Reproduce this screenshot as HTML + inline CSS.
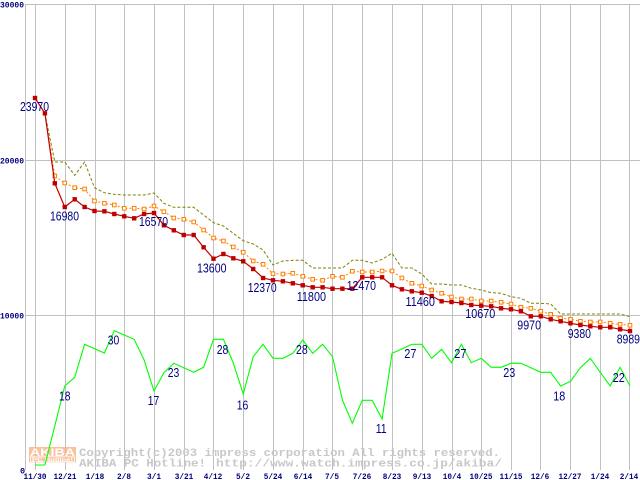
<!DOCTYPE html>
<html><head><meta charset="utf-8"><style>
html,body{margin:0;padding:0;background:#fff;}
svg{display:block;}
.ax{font-family:"Liberation Mono",monospace;font-weight:bold;font-size:8.5px;fill:#000080;}
.lb{font-family:"Liberation Sans",sans-serif;font-size:12.5px;fill:#000080;}
.cp{font-family:"Liberation Mono",monospace;font-weight:bold;font-size:11px;fill:#c8c8c8;}
</style></head><body>
<svg width="640" height="480" viewBox="0 0 640 480" xmlns="http://www.w3.org/2000/svg">
<defs>
<rect id="r" x="-2.2" y="-2.2" width="4.4" height="4.4" fill="#c00000"/>
<rect id="o" x="-1.8" y="-1.8" width="3.6" height="3.6" fill="#fff" stroke="#ff8000" stroke-width="1"/>
</defs>
<g stroke="#c0c0c0" stroke-width="1" shape-rendering="crispEdges">
<line x1="25" y1="4.5" x2="640" y2="4.5"/>
<line x1="25" y1="160.5" x2="640" y2="160.5"/>
<line x1="25" y1="315.5" x2="640" y2="315.5"/>
<line x1="35.5" y1="4" x2="35.5" y2="470"/>
<line x1="65.5" y1="4" x2="65.5" y2="470"/>
<line x1="95.5" y1="4" x2="95.5" y2="470"/>
<line x1="124.5" y1="4" x2="124.5" y2="470"/>
<line x1="154.5" y1="4" x2="154.5" y2="470"/>
<line x1="184.5" y1="4" x2="184.5" y2="470"/>
<line x1="213.5" y1="4" x2="213.5" y2="470"/>
<line x1="243.5" y1="4" x2="243.5" y2="470"/>
<line x1="273.5" y1="4" x2="273.5" y2="470"/>
<line x1="303.5" y1="4" x2="303.5" y2="470"/>
<line x1="332.5" y1="4" x2="332.5" y2="470"/>
<line x1="362.5" y1="4" x2="362.5" y2="470"/>
<line x1="392.5" y1="4" x2="392.5" y2="470"/>
<line x1="422.5" y1="4" x2="422.5" y2="470"/>
<line x1="452.5" y1="4" x2="452.5" y2="470"/>
<line x1="481.5" y1="4" x2="481.5" y2="470"/>
<line x1="511.5" y1="4" x2="511.5" y2="470"/>
<line x1="540.5" y1="4" x2="540.5" y2="470"/>
<line x1="570.5" y1="4" x2="570.5" y2="470"/>
<line x1="600.5" y1="4" x2="600.5" y2="470"/>
<line x1="629.5" y1="4" x2="629.5" y2="470"/>
<line x1="25.5" y1="4" x2="25.5" y2="470"/>
</g>

<!-- y axis labels -->
<text class="ax" x="0" y="7.5" textLength="24" lengthAdjust="spacingAndGlyphs">30000</text>
<text class="ax" x="0" y="163.5" textLength="24" lengthAdjust="spacingAndGlyphs">20000</text>
<text class="ax" x="0" y="318.5" textLength="24" lengthAdjust="spacingAndGlyphs">10000</text>
<text class="ax" x="20" y="473.5">0</text>

<!-- x axis labels -->
<g class="ax" text-anchor="middle">
<text x="35" y="479" textLength="23" lengthAdjust="spacingAndGlyphs">11/30</text>
<text x="65" y="479" textLength="23" lengthAdjust="spacingAndGlyphs">12/21</text>
<text x="95" y="479" textLength="18.5" lengthAdjust="spacingAndGlyphs">1/18</text>
<text x="124" y="479" textLength="14" lengthAdjust="spacingAndGlyphs">2/8</text>
<text x="154" y="479" textLength="14" lengthAdjust="spacingAndGlyphs">3/1</text>
<text x="184" y="479" textLength="18.5" lengthAdjust="spacingAndGlyphs">3/21</text>
<text x="213" y="479" textLength="18.5" lengthAdjust="spacingAndGlyphs">4/12</text>
<text x="243" y="479" textLength="14" lengthAdjust="spacingAndGlyphs">5/2</text>
<text x="273" y="479" textLength="18.5" lengthAdjust="spacingAndGlyphs">5/24</text>
<text x="303" y="479" textLength="18.5" lengthAdjust="spacingAndGlyphs">6/14</text>
<text x="332" y="479" textLength="14" lengthAdjust="spacingAndGlyphs">7/5</text>
<text x="362" y="479" textLength="18.5" lengthAdjust="spacingAndGlyphs">7/26</text>
<text x="392" y="479" textLength="18.5" lengthAdjust="spacingAndGlyphs">8/23</text>
<text x="422" y="479" textLength="18.5" lengthAdjust="spacingAndGlyphs">9/13</text>
<text x="452" y="479" textLength="18.5" lengthAdjust="spacingAndGlyphs">10/4</text>
<text x="481" y="479" textLength="23" lengthAdjust="spacingAndGlyphs">10/25</text>
<text x="511" y="479" textLength="23" lengthAdjust="spacingAndGlyphs">11/15</text>
<text x="540" y="479" textLength="18.5" lengthAdjust="spacingAndGlyphs">12/6</text>
<text x="570" y="479" textLength="23" lengthAdjust="spacingAndGlyphs">12/27</text>
<text x="600" y="479" textLength="18.5" lengthAdjust="spacingAndGlyphs">1/24</text>
<text x="629" y="479" textLength="18.5" lengthAdjust="spacingAndGlyphs">2/14</text>
</g>

<!-- watermark -->
<g opacity="0.85">
<rect x="29" y="447" width="47" height="15.5" fill="#f7b88c"/>
<text x="30" y="456" font-family="Liberation Sans,sans-serif" font-weight="bold" font-size="11px" fill="#fff" textLength="45" lengthAdjust="spacingAndGlyphs">AKIBA</text>
<rect x="30.5" y="456.8" width="44" height="5" fill="none" stroke="#fff" stroke-width="0.8"/>
<text x="32" y="461.7" font-family="Liberation Sans,sans-serif" font-weight="bold" font-size="5.5px" fill="#fff" textLength="41" lengthAdjust="spacingAndGlyphs">PC Hotline!</text>
</g>
<text class="cp" x="79" y="456" textLength="421" lengthAdjust="spacingAndGlyphs">Copyright(c)2003 impress corporation All rights reserved.</text>
<text class="cp" x="79" y="466.5" textLength="127" lengthAdjust="spacingAndGlyphs">AKIBA PC Hotline!</text>
<text class="cp" x="216" y="466.5" textLength="286" lengthAdjust="spacingAndGlyphs">http://www.watch.impress.co.jp/akiba/</text>

<!-- olive dashed -->
<polyline fill="none" stroke="#808000" stroke-width="1" stroke-dasharray="3,2" points="44.9,113.3 54.8,162 64.75,162 74.7,175.3 84.6,162 94.5,187.7 104.4,192.7 114.3,194.3 124.25,195 134.2,195 144.1,195 154,193 163.9,203.3 173.8,207.3 183.75,207.3 193.7,207.3 203.6,215 213.5,222.7 223.4,226 233.3,233.3 243.25,240.7 253.2,244 263.1,250 273,265 282.9,261 292.8,260.3 302.75,260.3 312.7,268 322.6,268 332.5,268 342.4,268 352.3,260.3 362.25,260.3 372.2,263 382.1,259.3 392,253.3 401.9,268 411.8,268 421.75,274 431.7,284 441.6,284 451.5,285 461.4,285 471.3,288.3 481.25,290 491.2,292.7 501.1,293.3 511,296.7 520.9,298.3 530.8,303.3 540.75,303.3 550.7,304 560.6,314 570.5,314 580.4,314 590.3,314 600.25,314 610.2,314 620.1,314 630,316.7"/>

<!-- orange dotted -->
<polyline fill="none" stroke="#ff8000" stroke-width="1" stroke-dasharray="2,2" points="44.9,113.3 54.8,176 64.75,183 74.7,187.7 84.6,189 94.5,201 104.4,203.3 114.3,205 124.25,208.3 134.2,208.3 144.1,209 154,206 163.9,211.7 173.8,218 183.75,219.3 193.7,222 203.6,230 213.5,238 223.4,241 233.3,247 243.25,252.3 253.2,261 263.1,264.3 273,273.7 282.9,274 292.8,273.3 302.75,276.3 312.7,279.3 322.6,280.3 332.5,276.3 342.4,277.3 352.3,271.3 362.25,272 372.2,272 382.1,271 392,271 401.9,278 411.8,283.3 421.75,286 431.7,290 441.6,293.3 451.5,297 461.4,299 471.3,299 481.25,301 491.2,301 501.1,302.3 511,304 520.9,307.3 530.8,308.3 540.75,311.3 550.7,314.3 560.6,318.3 570.5,319.3 580.4,321.3 590.3,322 600.25,322 610.2,323.3 620.1,324.3 630,325.3"/>
<g>
<use href="#o" x="54.8" y="176"/><use href="#o" x="64.75" y="183"/><use href="#o" x="74.7" y="187.7"/><use href="#o" x="84.6" y="189"/><use href="#o" x="94.5" y="201"/><use href="#o" x="104.4" y="203.3"/><use href="#o" x="114.3" y="205"/><use href="#o" x="124.25" y="208.3"/><use href="#o" x="134.2" y="208.3"/><use href="#o" x="144.1" y="209"/><use href="#o" x="154" y="206"/><use href="#o" x="163.9" y="211.7"/><use href="#o" x="173.8" y="218"/><use href="#o" x="183.75" y="219.3"/><use href="#o" x="193.7" y="222"/><use href="#o" x="203.6" y="230"/><use href="#o" x="213.5" y="238"/><use href="#o" x="223.4" y="241"/><use href="#o" x="233.3" y="247"/><use href="#o" x="243.25" y="252.3"/><use href="#o" x="253.2" y="261"/><use href="#o" x="263.1" y="264.3"/><use href="#o" x="273" y="273.7"/><use href="#o" x="282.9" y="274"/><use href="#o" x="292.8" y="273.3"/><use href="#o" x="302.75" y="276.3"/><use href="#o" x="312.7" y="279.3"/><use href="#o" x="322.6" y="280.3"/><use href="#o" x="332.5" y="276.3"/><use href="#o" x="342.4" y="277.3"/><use href="#o" x="352.3" y="271.3"/><use href="#o" x="362.25" y="272"/><use href="#o" x="372.2" y="272"/><use href="#o" x="382.1" y="271"/><use href="#o" x="392" y="271"/><use href="#o" x="401.9" y="278"/><use href="#o" x="411.8" y="283.3"/><use href="#o" x="421.75" y="286"/><use href="#o" x="431.7" y="290"/><use href="#o" x="441.6" y="293.3"/><use href="#o" x="451.5" y="297"/><use href="#o" x="461.4" y="299"/><use href="#o" x="471.3" y="299"/><use href="#o" x="481.25" y="301"/><use href="#o" x="491.2" y="301"/><use href="#o" x="501.1" y="302.3"/><use href="#o" x="511" y="304"/><use href="#o" x="520.9" y="307.3"/><use href="#o" x="530.8" y="308.3"/><use href="#o" x="540.75" y="311.3"/><use href="#o" x="550.7" y="314.3"/><use href="#o" x="560.6" y="318.3"/><use href="#o" x="570.5" y="319.3"/><use href="#o" x="580.4" y="321.3"/><use href="#o" x="590.3" y="322"/><use href="#o" x="600.25" y="322"/><use href="#o" x="610.2" y="323.3"/><use href="#o" x="620.1" y="324.3"/><use href="#o" x="630" y="325.3"/>
</g>

<!-- red solid -->
<polyline fill="none" stroke="#c00000" stroke-width="1.2" points="35,98 44.9,113.3 54.8,183.3 64.75,207 74.7,199.3 84.6,207 94.5,211 104.4,211.3 114.3,214 124.25,216.3 134.2,218.3 144.1,214 154,213 163.9,225.3 173.8,230.3 183.75,235 193.7,235 203.6,247.3 213.5,258.7 223.4,254 233.3,258.3 243.25,261.3 253.2,269 263.1,278 273,280.3 282.9,281.3 292.8,283.3 302.75,285.3 312.7,287.3 322.6,287.3 332.5,288.7 342.4,288.7 352.3,288.7 362.25,277.3 372.2,277.3 382.1,277.3 392,285.3 401.9,289.3 411.8,291.3 421.75,292.7 431.7,296 441.6,301.3 451.5,302 461.4,303 471.3,305 481.25,305.7 491.2,306.3 501.1,308.3 511,309.3 520.9,311.3 530.8,316.3 540.75,316.3 550.7,319.3 560.6,321.3 570.5,323.3 580.4,325 590.3,326.3 600.25,327.3 610.2,327.3 620.1,329.3 630,331"/>
<g>
<use href="#r" x="35" y="98"/><use href="#r" x="44.9" y="113.3"/><use href="#r" x="54.8" y="183.3"/><use href="#r" x="64.75" y="207"/><use href="#r" x="74.7" y="199.3"/><use href="#r" x="84.6" y="207"/><use href="#r" x="94.5" y="211"/><use href="#r" x="104.4" y="211.3"/><use href="#r" x="114.3" y="214"/><use href="#r" x="124.25" y="216.3"/><use href="#r" x="134.2" y="218.3"/><use href="#r" x="144.1" y="214"/><use href="#r" x="154" y="213"/><use href="#r" x="163.9" y="225.3"/><use href="#r" x="173.8" y="230.3"/><use href="#r" x="183.75" y="235"/><use href="#r" x="193.7" y="235"/><use href="#r" x="203.6" y="247.3"/><use href="#r" x="213.5" y="258.7"/><use href="#r" x="223.4" y="254"/><use href="#r" x="233.3" y="258.3"/><use href="#r" x="243.25" y="261.3"/><use href="#r" x="253.2" y="269"/><use href="#r" x="263.1" y="278"/><use href="#r" x="273" y="280.3"/><use href="#r" x="282.9" y="281.3"/><use href="#r" x="292.8" y="283.3"/><use href="#r" x="302.75" y="285.3"/><use href="#r" x="312.7" y="287.3"/><use href="#r" x="322.6" y="287.3"/><use href="#r" x="332.5" y="288.7"/><use href="#r" x="342.4" y="288.7"/><use href="#r" x="352.3" y="288.7"/><use href="#r" x="362.25" y="277.3"/><use href="#r" x="372.2" y="277.3"/><use href="#r" x="382.1" y="277.3"/><use href="#r" x="392" y="285.3"/><use href="#r" x="401.9" y="289.3"/><use href="#r" x="411.8" y="291.3"/><use href="#r" x="421.75" y="292.7"/><use href="#r" x="431.7" y="296"/><use href="#r" x="441.6" y="301.3"/><use href="#r" x="451.5" y="302"/><use href="#r" x="461.4" y="303"/><use href="#r" x="471.3" y="305"/><use href="#r" x="481.25" y="305.7"/><use href="#r" x="491.2" y="306.3"/><use href="#r" x="501.1" y="308.3"/><use href="#r" x="511" y="309.3"/><use href="#r" x="520.9" y="311.3"/><use href="#r" x="530.8" y="316.3"/><use href="#r" x="540.75" y="316.3"/><use href="#r" x="550.7" y="319.3"/><use href="#r" x="560.6" y="321.3"/><use href="#r" x="570.5" y="323.3"/><use href="#r" x="580.4" y="325"/><use href="#r" x="590.3" y="326.3"/><use href="#r" x="600.25" y="327.3"/><use href="#r" x="610.2" y="327.3"/><use href="#r" x="620.1" y="329.3"/><use href="#r" x="630" y="331"/>
</g>

<!-- green -->
<polyline fill="none" stroke="#00ff00" stroke-width="1.1" points="35,465 44.9,465 54.8,426 64.75,386 74.7,377.3 84.6,344.3 94.5,348.7 104.4,353 114.3,330.7 124.25,335 134.2,339.3 144.1,360 154,391 163.9,372.7 173.8,363.3 183.75,367.7 193.7,372.3 203.6,367.3 213.5,339.3 223.4,339.3 233.3,363 243.25,394 253.2,356.7 263.1,344.3 273,358.3 282.9,358.3 292.8,353.3 302.75,340 312.7,353.3 322.6,344.3 332.5,356.7 342.4,400 352.3,423.3 362.25,400.3 372.2,400.3 382.1,419 392,353.3 401.9,349 411.8,344.3 421.75,344.3 431.7,358.3 441.6,349.3 451.5,362.7 461.4,344.3 471.3,362.7 481.25,358.3 491.2,367.3 501.1,367.3 511,363.3 520.9,363.3 530.8,367.7 540.75,372.3 550.7,372.3 560.6,386 570.5,381.3 580.4,367.7 590.3,358.3 600.25,372.3 610.2,386 620.1,367.3 630,386"/>

<!-- price labels -->
<g class="lb">
<text x="20" y="111.2" textLength="29" lengthAdjust="spacingAndGlyphs">23970</text>
<text x="50" y="220.5" textLength="29" lengthAdjust="spacingAndGlyphs">16980</text>
<text x="139" y="226.2" textLength="29" lengthAdjust="spacingAndGlyphs">16570</text>
<text x="197" y="272.5" textLength="29.5" lengthAdjust="spacingAndGlyphs">13600</text>
<text x="247.7" y="291.8" textLength="29" lengthAdjust="spacingAndGlyphs">12370</text>
<text x="296.7" y="300.8" textLength="29.3" lengthAdjust="spacingAndGlyphs">11800</text>
<text x="346.7" y="290.2" textLength="29.3" lengthAdjust="spacingAndGlyphs">12470</text>
<text x="405.5" y="306.2" textLength="29.5" lengthAdjust="spacingAndGlyphs">11460</text>
<text x="465.3" y="318.2" textLength="30" lengthAdjust="spacingAndGlyphs">10670</text>
<text x="517.3" y="329.5" textLength="23.7" lengthAdjust="spacingAndGlyphs">9970</text>
<text x="567.7" y="338.2" textLength="23.3" lengthAdjust="spacingAndGlyphs">9380</text>
<text x="616.7" y="343.5" textLength="23.3" lengthAdjust="spacingAndGlyphs">8989</text>
<!-- count labels -->
<text x="59" y="400.5" textLength="11.5" lengthAdjust="spacingAndGlyphs">18</text>
<text x="107.7" y="344.5" textLength="11.5" lengthAdjust="spacingAndGlyphs">30</text>
<text x="147.7" y="405.2" textLength="11.5" lengthAdjust="spacingAndGlyphs">17</text>
<text x="167.7" y="377.2" textLength="11.6" lengthAdjust="spacingAndGlyphs">23</text>
<text x="216.7" y="353.8" textLength="11.6" lengthAdjust="spacingAndGlyphs">28</text>
<text x="236.7" y="409.5" textLength="11.6" lengthAdjust="spacingAndGlyphs">16</text>
<text x="296" y="353.8" textLength="11.7" lengthAdjust="spacingAndGlyphs">28</text>
<text x="375.7" y="433.2" textLength="11" lengthAdjust="spacingAndGlyphs">11</text>
<text x="404.3" y="358.2" textLength="12.2" lengthAdjust="spacingAndGlyphs">27</text>
<text x="454.3" y="358.2" textLength="12.2" lengthAdjust="spacingAndGlyphs">27</text>
<text x="503.3" y="377.2" textLength="12" lengthAdjust="spacingAndGlyphs">23</text>
<text x="553.3" y="400.5" textLength="12" lengthAdjust="spacingAndGlyphs">18</text>
<text x="612.7" y="381.8" textLength="12" lengthAdjust="spacingAndGlyphs">22</text>
</g>
</svg>
</body></html>
